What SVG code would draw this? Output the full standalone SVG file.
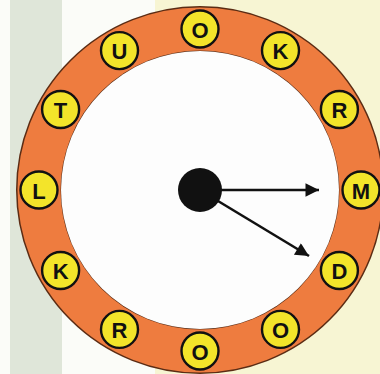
<svg xmlns="http://www.w3.org/2000/svg" width="380" height="374" viewBox="0 0 380 374">
<style>
.tok circle{fill:#f3e42a;stroke:#111;stroke-width:2.4}
.tok text{font-family:"Liberation Sans",Arial,sans-serif;font-weight:bold;font-size:22px;fill:#111;text-anchor:middle;dominant-baseline:central}
.conn line{stroke:#111;stroke-width:2.6}
</style>
<defs>
<marker id="ah" viewBox="0 0 10 10" refX="10" refY="5" markerWidth="6.5" markerHeight="5.2" markerUnits="strokeWidth" orient="auto">
<path d="M0,0 L10,5 L0,10 z" fill="#111"/>
</marker>
</defs>
<rect width="380" height="374" fill="#f7f5d3"/>
<rect x="0" y="0" width="155" height="374" fill="#fbfcf8"/>
<rect x="10" y="0" width="52" height="374" fill="#dfe6d9"/>
<g id="ring">
<circle cx="200" cy="190" r="161" fill="none" stroke="#5b2c14" stroke-width="46"/>
<circle cx="200" cy="190" r="161" fill="none" stroke="#ee7c3f" stroke-width="43"/>
<circle cx="200" cy="190" r="139" fill="#fdfdfd"/>
</g>
<g id="hub"><circle cx="200" cy="190" r="22" fill="#111"/></g>
<g id="connectors" class="conn">
<line x1="220" y1="190" x2="319" y2="190" marker-end="url(#ah)"/>
<line x1="218" y1="201" x2="309" y2="256" marker-end="url(#ah)"/>
</g>
<g id="n0" class="tok"><circle cx="200" cy="29" r="18.5"/><text x="200" y="30">O</text></g>
<g id="n1" class="tok"><circle cx="280.5" cy="50.6" r="18.5"/><text x="280.5" y="51.6">K</text></g>
<g id="n2" class="tok"><circle cx="339.4" cy="109.5" r="18.5"/><text x="339.4" y="110.5">R</text></g>
<g id="n3" class="tok"><circle cx="361" cy="190" r="18.5"/><text x="361" y="191">M</text></g>
<g id="n4" class="tok"><circle cx="339.4" cy="270.5" r="18.5"/><text x="339.4" y="271.5">D</text></g>
<g id="n5" class="tok"><circle cx="280.5" cy="329.4" r="18.5"/><text x="280.5" y="330.4">O</text></g>
<g id="n6" class="tok"><circle cx="200" cy="351" r="18.5"/><text x="200" y="352">O</text></g>
<g id="n7" class="tok"><circle cx="119.5" cy="329.4" r="18.5"/><text x="119.5" y="330.4">R</text></g>
<g id="n8" class="tok"><circle cx="60.6" cy="270.5" r="18.5"/><text x="60.6" y="271.5">K</text></g>
<g id="n9" class="tok"><circle cx="39" cy="190" r="18.5"/><text x="39" y="191">L</text></g>
<g id="n10" class="tok"><circle cx="60.6" cy="109.5" r="18.5"/><text x="60.6" y="110.5">T</text></g>
<g id="n11" class="tok"><circle cx="119.5" cy="50.6" r="18.5"/><text x="119.5" y="51.6">U</text></g>
</svg>
